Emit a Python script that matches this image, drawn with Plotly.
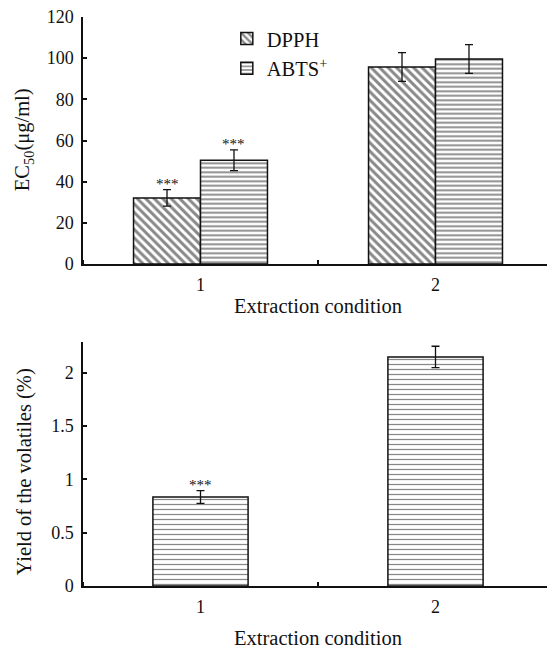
import plotly.graph_objects as go

# ---- data ----
conditions = [1, 2]
condition_labels = ["1", "2"]
dpph_ec50 = [32.1, 95.7]
dpph_err = [4.0, 7.0]
abts_ec50 = [50.4, 99.6]
abts_err = [5.0, 7.0]
yield_vals = [0.835, 2.15]
yield_err = [0.06, 0.10]
sig_top_dpph = ["***", ""]
sig_top_abts = ["***", ""]
sig_yield = ["***", ""]

FONT = "Liberation Serif"
BLACK = "#111111"
TICK_SIZE = 18
TITLE_SIZE = 20.5

fig = go.Figure()

bw_top = 0.285
fig.add_trace(go.Bar(
    x=conditions, y=dpph_ec50, name="DPPH", width=bw_top, offset=-bw_top,
    marker=dict(color="white", line=dict(color=BLACK, width=1.5),
                pattern=dict(shape="\\", fgcolor=BLACK, bgcolor="white", size=6, solidity=0.5)),
    error_y=dict(type="data", array=dpph_err, color=BLACK, thickness=1.3, width=4),
    xaxis="x", yaxis="y", legendgroup="a",
))
fig.add_trace(go.Bar(
    x=conditions, y=abts_ec50, name="ABTS<sup>+</sup>", width=bw_top, offset=0,
    marker=dict(color="white", line=dict(color=BLACK, width=1.5),
                pattern=dict(shape="-", fgcolor=BLACK, bgcolor="white", size=4.5, solidity=0.42)),
    error_y=dict(type="data", array=abts_err, color=BLACK, thickness=1.3, width=4),
    xaxis="x", yaxis="y", legendgroup="b",
))

bw_bot = 0.405
fig.add_trace(go.Bar(
    x=conditions, y=yield_vals, name="Yield", width=bw_bot, showlegend=False,
    marker=dict(color="white", line=dict(color=BLACK, width=1.5),
                pattern=dict(shape="-", fgcolor=BLACK, bgcolor="white", size=5, solidity=0.25)),
    error_y=dict(type="data", array=yield_err, color=BLACK, thickness=1.3, width=4),
    xaxis="x2", yaxis="y2",
))

annotations = []
star_font = dict(family=FONT, size=15, color=BLACK)
for i, c in enumerate(conditions):
    if sig_top_dpph[i]:
        annotations.append(dict(x=c - bw_top / 2, y=dpph_ec50[i] + dpph_err[i], xref="x", yref="y",
                                text=sig_top_dpph[i], showarrow=False, yanchor="bottom", yshift=-4,
                                font=star_font))
    if sig_top_abts[i]:
        annotations.append(dict(x=c + bw_top / 2, y=abts_ec50[i] + abts_err[i], xref="x", yref="y",
                                text=sig_top_abts[i], showarrow=False, yanchor="bottom", yshift=-4,
                                font=star_font))
    if sig_yield[i]:
        annotations.append(dict(x=c, y=yield_vals[i] + yield_err[i], xref="x2", yref="y2",
                                text=sig_yield[i], showarrow=False, yanchor="bottom", yshift=-4,
                                font=star_font))

# axis titles as annotations (paper fractions; plot area 470 x 569 px)
title_font = dict(family=FONT, size=TITLE_SIZE, color=BLACK)
annotations += [
    dict(x=-0.125, y=0.784, xref="paper", yref="paper", text="EC<sub>50</sub>(μg/ml)",
         textangle=-90, showarrow=False, xanchor="center", yanchor="middle", font=title_font),
    dict(x=-0.125, y=0.20, xref="paper", yref="paper", text="Yield of the volatiles (%)",
         textangle=-90, showarrow=False, xanchor="center", yanchor="middle", font=title_font),
    dict(x=0.5, y=(586 - 306) / 569, xref="paper", yref="paper", text="Extraction condition",
         showarrow=False, xanchor="center", yanchor="middle", font=title_font),
    dict(x=0.5, y=(586 - 638) / 569, xref="paper", yref="paper", text="Extraction condition",
         showarrow=False, xanchor="center", yanchor="middle", font=title_font),
]

axis_common = dict(showline=True, linecolor=BLACK, linewidth=1.5, showgrid=False, zeroline=False,
                   tickfont=dict(family=FONT, size=TICK_SIZE, color=BLACK),
                   ticklabeloverflow="allow", ticklabelstandoff=4, automargin=False)
minor_ticks = dict(tickvals=[0.5, 1.5, 2.5], ticks="inside", ticklen=4, tickcolor=BLACK, tickwidth=1.5)

# the page body has an 8px default margin, so the figure is laid out 8px up/left
fig.update_layout(
    width=555, height=649,
    margin=dict(l=75, r=10, t=9, b=71, autoexpand=False),
    paper_bgcolor="white", plot_bgcolor="white",
    barmode="overlay",
    font=dict(family=FONT, size=TICK_SIZE, color=BLACK),
    xaxis=dict(domain=[0, 1], anchor="y", range=[0.5, 2.5], tickvals=conditions, ticktext=condition_labels,
               ticks="", minor=minor_ticks, **axis_common),
    yaxis=dict(domain=[(586 - 264) / 569, 1], anchor="x", range=[0, 120], tickvals=[0, 20, 40, 60, 80, 100, 120],
               ticks="inside", ticklen=4, tickcolor=BLACK, tickwidth=1.5, **axis_common),
    xaxis2=dict(domain=[0, 1], anchor="y2", range=[0.5, 2.5], tickvals=conditions, ticktext=condition_labels,
                ticks="", minor=minor_ticks, **axis_common),
    yaxis2=dict(domain=[0, (586 - 342) / 569], anchor="x2", range=[0, 2.29],
                tickvals=[0, 0.5, 1, 1.5, 2], ticktext=["0", "0.5", "1", "1.5", "2"],
                ticks="inside", ticklen=4, tickcolor=BLACK, tickwidth=1.5, **axis_common),
    legend=dict(x=0.306, y=0.997, xanchor="left", yanchor="top", bgcolor="rgba(0,0,0,0)",
                traceorder="grouped", tracegroupgap=0, font=dict(family=FONT, size=TITLE_SIZE, color=BLACK),
                itemwidth=30),
    annotations=annotations,
    showlegend=True,
)

fig.write_html("out.html")
